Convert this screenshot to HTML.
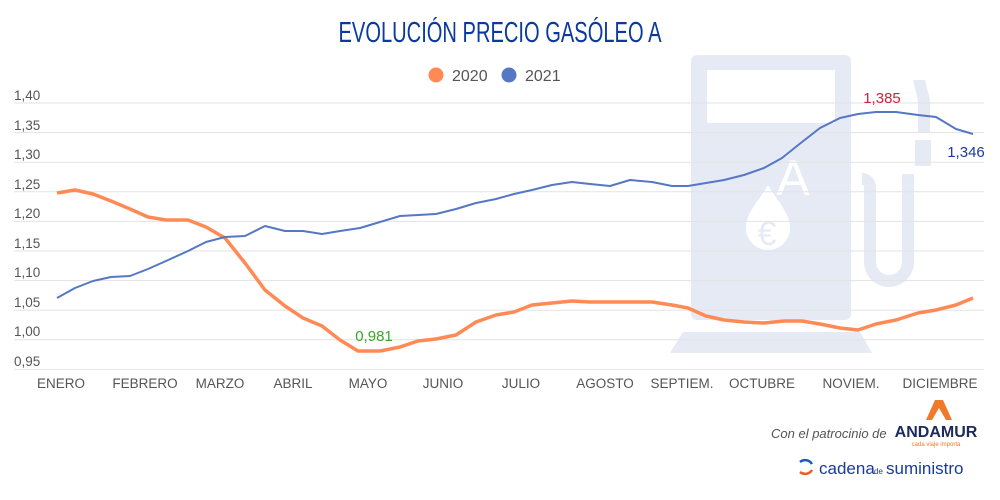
<!DOCTYPE html>
<html><head><meta charset="utf-8"><style>
html,body{margin:0;padding:0;background:#fff}
svg{display:block;font-family:"Liberation Sans",sans-serif}
</style></head><body>
<svg width="1000" height="500" viewBox="0 0 1000 500" xmlns="http://www.w3.org/2000/svg">
<rect width="1000" height="500" fill="#fff"/>
<!-- pump icon -->
<g fill="#e6eaf4">
<rect x="691" y="55" width="160" height="265" rx="6"/>
<polygon points="683,332 860,332 872,353 670,353"/>
<polygon points="913,80 925,80 930,100 930,132 918,132 918,100"/>
<rect x="915" y="140" width="16" height="26"/>
<path d="M862,173 a14,14 0 0 1 14,14 v75 a13,13 0 0 0 26,0 v-88 h12 v88 a25,25 0 0 1 -50,0 v-75 a2,2 0 0 0 -2,-2 z"/>
</g>
<rect x="707" y="70" width="128" height="53" fill="#fff"/>
<text x="793" y="195" font-size="50" fill="#fff" text-anchor="middle">A</text>
<path d="M768,185 C760,200 746,212 746,228 a22,22 0 0 0 44,0 C790,212 776,200 768,185 z" fill="#fff"/>
<text x="767" y="245" font-size="34" fill="#e6eaf4" text-anchor="middle">€</text>
<!-- grid -->
<g stroke="#e3e3e3" stroke-width="1">
<line x1="14" x2="984" y1="103" y2="103"/><line x1="14" x2="984" y1="132.6" y2="132.6"/>
<line x1="14" x2="984" y1="162.2" y2="162.2"/><line x1="14" x2="984" y1="191.8" y2="191.8"/>
<line x1="14" x2="984" y1="221.4" y2="221.4"/><line x1="14" x2="984" y1="251" y2="251"/>
<line x1="14" x2="984" y1="280.6" y2="280.6"/><line x1="14" x2="984" y1="310.2" y2="310.2"/>
<line x1="14" x2="984" y1="339.8" y2="339.8"/><line x1="14" x2="984" y1="369.4" y2="369.4"/>
</g>
<g font-size="13.5" fill="#555">
<text x="14" y="100">1,40</text><text x="14" y="130">1,35</text><text x="14" y="159">1,30</text>
<text x="14" y="189">1,25</text><text x="14" y="218">1,20</text><text x="14" y="248">1,15</text>
<text x="14" y="277">1,10</text><text x="14" y="307">1,05</text><text x="14" y="336">1,00</text>
<text x="14" y="366">0,95</text>
</g>
<g font-size="13.5" fill="#555" text-anchor="middle">
<text x="61" y="388">ENERO</text><text x="145" y="388">FEBRERO</text><text x="220" y="388">MARZO</text>
<text x="293" y="388">ABRIL</text><text x="368" y="388">MAYO</text><text x="443" y="388">JUNIO</text>
<text x="521" y="388">JULIO</text><text x="605" y="388">AGOSTO</text><text x="682" y="388">SEPTIEM.</text>
<text x="762" y="388">OCTUBRE</text><text x="851" y="388">NOVIEM.</text><text x="940" y="388">DICIEMBRE</text>
</g>
<polyline fill="none" stroke="#ff8a55" stroke-width="3.5" stroke-linejoin="round" points="57,193 75,190 93,194 111,201 130,209 148,217 166,220 188,220 206,227 225,238 245,263 265,290 285,306 303,318 322,326 340,340 358,351 380,351 400,347 418,341 436,339 456,335 476,322 496,315 514,312 532,305 552,303 572,301 590,302 610,302 630,302 652,302 672,305 688,308 706,316 724,320 744,322 764,323 784,321 802,321 820,324 840,328 858,330 876,324 896,320 918,313 936,310 956,305 973,298"/>
<polyline fill="none" stroke="#5577c4" stroke-width="2" stroke-linejoin="round" points="57,298 75,288 93,281 111,277 130,276 148,269 166,261 188,251 206,242 225,237 245,236 265,226 285,231 303,231 322,234 340,231 360,228 380,222 400,216 418,215 436,214 456,209 476,203 496,199 514,194 532,190 552,185 572,182 590,184 610,186 630,180 652,182 672,186 688,186 706,183 724,180 744,175 764,168 782,158 802,142 820,128 840,118 858,114 876,112 896,112 918,115 936,117 956,129 973,134"/>
<text x="374" y="341" font-size="15" fill="#3aa52a" text-anchor="middle">0,981</text>
<text x="882" y="103" font-size="15" fill="#d4203c" text-anchor="middle">1,385</text>
<text x="966" y="157" font-size="15" fill="#1a3a9e" text-anchor="middle">1,346</text>
<!-- title -->
<text x="500" y="42" font-size="29" fill="#0b3a9e" text-anchor="middle" textLength="323" lengthAdjust="spacingAndGlyphs">EVOLUCIÓN PRECIO GASÓLEO A</text>
<circle cx="436" cy="75" r="7.5" fill="#ff8a55"/>
<text x="452" y="81" font-size="16" fill="#555">2020</text>
<circle cx="509" cy="75" r="7.5" fill="#5577c4"/>
<text x="525" y="81" font-size="16" fill="#555">2021</text>
<!-- footer -->
<text x="771" y="438" font-size="13" font-style="italic" fill="#555">Con el patrocinio de</text>
<polygon points="935,400 943,400 952,420 946,420 939,408 932,420 926,420" fill="#f07a2a"/>
<text x="936" y="437" font-size="16" font-weight="bold" fill="#1e2a5a" text-anchor="middle">ANDAMUR</text>
<text x="936" y="446" font-size="6" fill="#f07a2a" text-anchor="middle">cada viaje importa</text>
<path d="M800,462 a8,8 0 0 1 12,2" fill="none" stroke="#1e5bb8" stroke-width="2.5"/>
<path d="M812,470 a8,8 0 0 1 -12,2" fill="none" stroke="#f05a28" stroke-width="2.5"/>
<text x="819" y="474" font-size="17" fill="#1a3a9e">cadena</text>
<text x="874" y="474" font-size="8" fill="#1a3a9e">de</text>
<text x="886" y="474" font-size="17" fill="#1a3a9e">suministro</text>
</svg>
</body></html>
